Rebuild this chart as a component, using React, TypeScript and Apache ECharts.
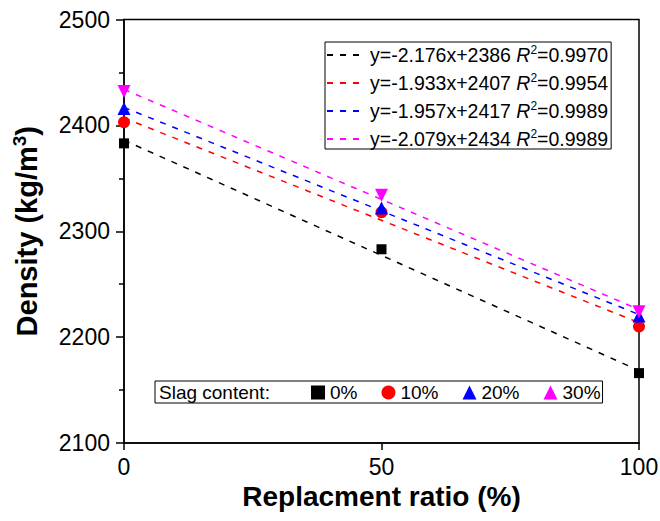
import React, { useEffect, useRef } from "react";
import * as echarts from "echarts";

const xValues = [0, 50, 100];
const slagContents = ["0%", "10%", "20%", "30%"];
const density0 = [2383, 2283, 2166];
const density10 = [2403, 2318, 2210];
const density20 = [2416, 2322, 2220];
const density30 = [2432, 2334, 2224];
const slopes = [-2.176, -1.933, -1.957, -2.079];
const intercepts = [2386, 2407, 2417, 2434];
const rSquared = ["0.9970", "0.9954", "0.9989", "0.9989"];
const yTicks = [2100, 2200, 2300, 2400, 2500];
const xTicks = [0, 50, 100];

const FONT = "Liberation Sans, Arial, sans-serif";
const colors = ["#000000", "#ff0000", "#0000ff", "#ff00ff"];
const symbols = ["rect", "circle", "triangle", "triangle"];
const symbolRotates = [0, 0, 0, 180];
const symbolSizes = [10, 12, 13, 13];

export default function App() {
  const ref = useRef<HTMLDivElement>(null);
  useEffect(() => {
    if (!ref.current) return;
    const chart = echarts.init(ref.current, null, { renderer: "svg" });
    const allDensity = [density0, density10, density20, density30];

    const fitSeries = slagContents.map((s, i) => ({
      name: "fit " + s,
      type: "line",
      data: [xValues[0], xValues[xValues.length - 1]].map((x) => [x, slopes[i] * x + intercepts[i]]),
      symbol: "none",
      clip: false,
      lineStyle: { color: colors[i], width: 1.5, type: [6, 7] },
      itemStyle: { color: colors[i] },
      z: 2,
    }));
    const scatterSeries = slagContents.map((s, i) => ({
      name: s,
      type: "scatter",
      data: xValues.map((x, j) => [x, allDensity[i][j]]),
      symbol: symbols[i],
      symbolRotate: symbolRotates[i],
      symbolSize: symbolSizes[i],
      clip: false,
      itemStyle: { color: colors[i], opacity: 1 },
      z: 3,
    }));

    const textRich = {
      t: { fontSize: 19.5, fontFamily: FONT, color: "#000", lineHeight: 22 },
      i: { fontSize: 19.5, fontFamily: FONT, color: "#000", fontStyle: "italic", lineHeight: 22 },
      s: { fontSize: 12, fontFamily: FONT, color: "#000", lineHeight: 12, verticalAlign: "top" },
    };

    chart.setOption({
      animation: false,
      backgroundColor: "#fff",
      grid: {
        left: 124,
        right: 21,
        top: 19.5,
        bottom: 78,
        show: true,
        borderColor: "#000",
        borderWidth: 1.5,
        outerBoundsMode: "none",
      },
      xAxis: {
        type: "value",
        min: xTicks[0],
        max: xTicks[xTicks.length - 1],
        interval: 50,
        name: "Replacment ratio (%)",
        nameLocation: "middle",
        nameGap: 36,
        nameTextStyle: { fontSize: 28, fontWeight: "bold", fontFamily: FONT, color: "#000" },
        axisLine: { lineStyle: { color: "#000", width: 1.5 } },
        axisTick: { show: true, inside: false, length: 7, lineStyle: { color: "#000", width: 1.5 } },
        axisLabel: { fontSize: 23, fontFamily: FONT, color: "#000", margin: 12 },
        splitLine: { show: false },
      },
      yAxis: {
        type: "value",
        min: yTicks[0],
        max: yTicks[yTicks.length - 1],
        interval: 100,
        name: "{a|Density (kg/m}{s|3}{a|)}",
        nameLocation: "middle",
        nameGap: 81,
        nameRotate: 90,
        nameTextStyle: {
          rich: {
            a: { fontSize: 29, fontWeight: "bold", fontFamily: FONT, color: "#000", lineHeight: 33 },
            s: { fontSize: 19, fontWeight: "bold", fontFamily: FONT, color: "#000", lineHeight: 19, verticalAlign: "top" },
          },
        },
        axisLine: { show: true, lineStyle: { color: "#000", width: 1.5 } },
        axisTick: { show: true, inside: false, length: 8, lineStyle: { color: "#000", width: 1.5 } },
        minorTick: { show: true, splitNumber: 2, length: 5, lineStyle: { color: "#000", width: 1.5 } },
        axisLabel: {
          fontSize: 23,
          fontFamily: FONT,
          color: "#000",
          margin: 14,
          formatter: (v: number) => String(v),
        },
        splitLine: { show: false },
      },
      legend: [
        {
          data: fitSeries.map((s) => s.name),
          orient: "vertical",
          left: 325,
          top: 42,
          borderColor: "#000",
          borderWidth: 1,
          padding: [2, 3, 0, 1],
          itemWidth: 38,
          itemHeight: 12,
          itemGap: 7,
          itemTextGap: 9,
          itemStyle: { opacity: 0 },
          formatter: (name: string) => {
            const i = fitSeries.findIndex((s) => s.name === name);
            return `{t|y=${slopes[i]}x+${intercepts[i]} }{i|R}{s|2}{t|=${rSquared[i]}}`;
          },
          textStyle: { rich: textRich },
        },
        {
          data: slagContents,
          orient: "horizontal",
          left: 155,
          top: 381,
          borderColor: "#000",
          borderWidth: 1,
          padding: [2, 2, 1, 156],
          itemWidth: 14,
          itemHeight: 14,
          itemGap: 24,
          itemTextGap: 8,
          textStyle: { fontSize: 19, fontFamily: FONT, color: "#000" },
        },
      ],
      graphic: [
        {
          type: "text",
          left: 159,
          top: 383,
          style: { text: "Slag content:", fontSize: 19, fontFamily: FONT, fill: "#000" },
        },
      ],
      series: [...fitSeries, ...scatterSeries],
    });
    return () => chart.dispose();
  }, []);
  return (
    <div
      ref={ref}
      style={{ position: "absolute", left: 0, top: 0, width: 660, height: 521 }}
    />
  );
}
